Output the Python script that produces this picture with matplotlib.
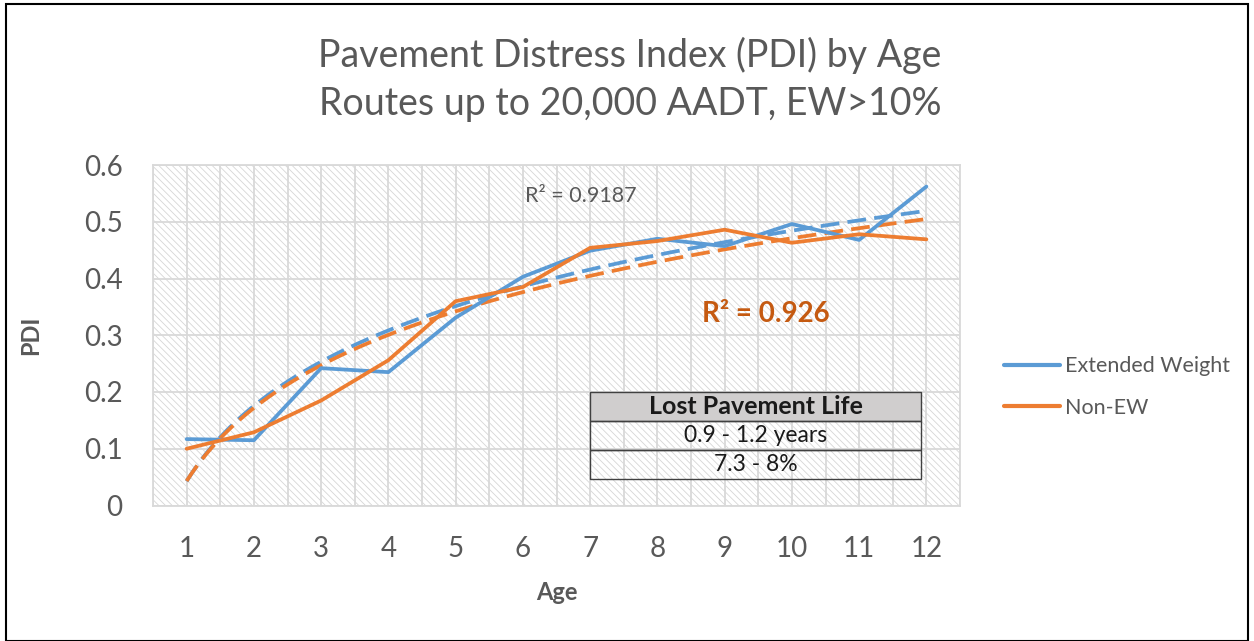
import numpy as np
import matplotlib
matplotlib.use("Agg")
import matplotlib.pyplot as plt
from matplotlib.patches import Rectangle
from matplotlib.lines import Line2D

plt.rcParams['font.family'] = ['Lato', 'DejaVu Sans']
plt.rcParams['hatch.linewidth'] = 0.6
plt.rcParams['hatch.color'] = '#d6d6d6'

# ---- data ----
ages = [1, 2, 3, 4, 5, 6, 7, 8, 9, 10, 11, 12]
extended_weight = [0.117, 0.115, 0.242, 0.235, 0.331, 0.403, 0.449, 0.470, 0.457, 0.496, 0.468, 0.562]
non_ew = [0.100, 0.129, 0.185, 0.256, 0.360, 0.385, 0.454, 0.466, 0.486, 0.463, 0.478, 0.469]
series_names = ["Extended Weight", "Non-EW"]
y_ticks = [0, 0.1, 0.2, 0.3, 0.4, 0.5, 0.6]
r2_labels = ["R\u00b2 = 0.9187", "R\u00b2 = 0.926"]
table_rows = ["Lost Pavement Life", "0.9 - 1.2 years", "7.3 - 8%"]

BLUE = '#5B9BD5'
ORANGE = '#ED7D31'
DARK_ORANGE = '#C55A11'
GRAY = '#595959'
GRID = '#d9d9d9'

fig = plt.figure(figsize=(12.54, 6.41), dpi=100)
fig.patch.set_facecolor('white')
fig.add_artist(Rectangle((0.005, 0.0), 0.99, 0.993, transform=fig.transFigure,
                         fill=False, edgecolor='black', linewidth=1.5))

W, H = 1254, 641
left, right, top, bottom = 153, 960, 165, 505.5
ax = fig.add_axes([left / W, 1 - bottom / H, (right - left) / W, (bottom - top) / H])
ax.set_facecolor('white')
ax.add_patch(Rectangle((0, 0), 1, 1, transform=ax.transAxes, facecolor='white',
                       edgecolor='#d6d6d6', hatch='\\' * 5, linewidth=0, zorder=0))

x = np.array(ages, dtype=float)
ax.plot(x, extended_weight, color=BLUE, lw=2.7, zorder=4, solid_capstyle='round')
ax.plot(x, non_ew, color=ORANGE, lw=2.7, zorder=5, solid_capstyle='round')

xf = np.linspace(1, 12, 200)
for ys, c, z in [(extended_weight, BLUE, 3), (non_ew, ORANGE, 3.5)]:
    b, a = np.polyfit(np.log(x), ys, 1)
    ax.plot(xf, a + b * np.log(xf), color=c, lw=2.7, dashes=(5, 2.2), zorder=z)

ax.set_xlim(0.5, 12.5)
ax.set_ylim(0, 0.6)
ax.set_xticks(ages)
ax.set_xticks(np.arange(0.5, 12.6, 1), minor=True)
ax.set_yticks(y_ticks)
ax.set_yticklabels([f"{v:g}" for v in y_ticks])
ax.grid(which='both', axis='x', color=GRID, lw=1.3, zorder=1)
ax.grid(which='major', axis='y', color=GRID, lw=1.3, zorder=1)
ax.set_axisbelow(True)
for s in ax.spines.values():
    s.set_color(GRID)
    s.set_linewidth(1.3)
ax.tick_params(which='both', length=0)
ax.tick_params(axis='y', labelsize=20, labelcolor=GRAY, pad=22)
ax.tick_params(axis='x', labelsize=20, labelcolor=GRAY, pad=22)

ax.set_xlabel("Age", fontsize=17, fontweight='bold', color=GRAY, labelpad=14)
ax.set_ylabel("PDI", fontsize=17, fontweight='bold', color=GRAY, labelpad=30)

fig.text(0.5 * (320 + 940) / W, 1 - 55 / H, "Pavement Distress Index (PDI) by Age",
         ha='center', va='center', fontsize=27, color=GRAY)
fig.text(0.5 * (320 + 940) / W, 1 - 104 / H, "Routes up to 20,000 AADT, EW>10%",
         ha='center', va='center', fontsize=27, color=GRAY)

ax.text(6.857, 0.545, r2_labels[0], ha='center', va='center', fontsize=15.5, color=GRAY, zorder=6)
ax.text(9.607, 0.338, r2_labels[1], ha='center', va='center', fontsize=20,
        fontweight='bold', color=DARK_ORANGE, zorder=6)

# table
tab = ax.table(cellText=[[r] for r in table_rows], cellLoc='center',
               bbox=[(590 - left) / (right - left), (bottom - 479) / (bottom - top),
                     (921 - 590) / (right - left), (479 - 392) / (bottom - top)], zorder=7)
tab.auto_set_font_size(False)
for (r, c), cell in tab.get_celld().items():
    cell.set_edgecolor('#404040')
    cell.set_linewidth(1.0)
    cell.get_text().set_color('#1a1a1a')
    if r == 0:
        cell.set_facecolor('#d0cece')
        cell.get_text().set_fontweight('bold')
        cell.get_text().set_fontsize(18)
    else:
        cell.set_facecolor('none')
        cell.get_text().set_fontsize(16.5)

handles = [Line2D([], [], color=BLUE, lw=3, solid_capstyle='round'),
           Line2D([], [], color=ORANGE, lw=3, solid_capstyle='round')]
fig.legend(handles, series_names, loc='center left',
           bbox_to_anchor=(985 / W, 1 - 387 / H), frameon=False, fontsize=15.5,
           labelcolor=GRAY, handlelength=2.6, handletextpad=0.2, labelspacing=1.0)

fig.savefig("out.png", dpi=100, facecolor='white')
